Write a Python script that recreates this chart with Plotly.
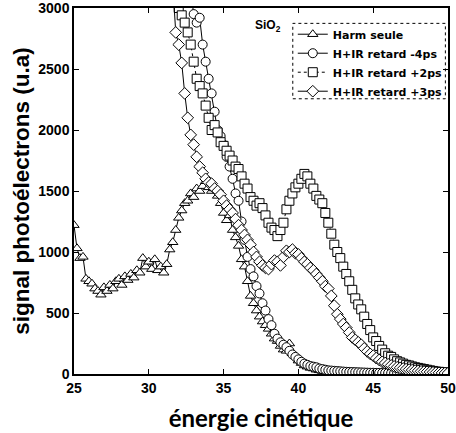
import plotly.graph_objects as go

# ---------------- data ----------------
step = 0.2

harm_start = 25.0
harm_vals = [1220, 1030, 950, 960, 780, 760, 740, 700, 680, 650,
             710, 680, 730, 700, 760, 780, 730, 800, 770, 820,
             790, 850, 830, 950, 880, 920, 860, 940, 850, 880,
             830, 900, 1020, 1080, 1180, 1280, 1340, 1400, 1420, 1480,
             1450, 1520, 1500, 1540, 1580, 1530, 1500, 1520, 1460, 1400,
             1320, 1260, 1300, 1180, 1120, 1050, 940, 880, 760, 640,
             580, 520, 470, 430, 400, 370, 330, 290, 270, 230,
             200, 190, 250, 170, 150, 110, 90, 70, 60, 50,
             45, 35, 30, 25, 20, 18, 16, 15, 14, 12,
             12, 11, 10, 10, 9, 9, 8, 8, 8, 7,
             7, 7, 6, 6, 6, 6, 5, 5, 5, 5,
             5, 5, 5, 5, 5, 5, 5, 5, 5, 5,
             5, 5, 5, 5, 5, 5]

m4_start = 32.8
m4_vals = [3150, 2950, 2880, 2920, 2700, 2560, 2420, 2300, 2150, 2000,
           1950, 1880, 1780, 1700, 1600, 1480, 1420, 1250, 1100, 960,
           860, 800, 720, 660, 580, 520, 450, 400, 330, 290,
           260, 240, 220, 190, 160, 140, 120, 100, 85, 75,
           65, 60, 55, 45, 40, 35, 30, 28, 26, 24,
           22, 20, 18, 17, 16, 15, 14, 13, 12, 11,
           10, 10, 9, 9, 8, 8, 8, 7, 7, 7,
           6, 6, 6, 6, 5, 5, 5, 5, 5, 5,
           5, 5, 5, 5, 5, 5]

p2_start = 31.8
p2_vals = [3200, 3000, 2940, 2880, 2800, 2700, 2560, 2420, 2360, 2300,
           2200, 2100, 2000, 2040, 1980, 1900, 1870, 1830, 1790, 1750,
           1700, 1680, 1620, 1560, 1520, 1450, 1420, 1380, 1400, 1360,
           1300, 1240, 1200, 1180, 1130, 1180, 1240, 1350, 1420, 1480,
           1530, 1560, 1600, 1640, 1620, 1560, 1520, 1460, 1430, 1400,
           1320, 1240, 1150, 1060, 1000, 950, 880, 820, 760, 690,
           620, 570, 530, 470, 410, 360, 300, 270, 230, 200,
           170, 150, 140, 120, 105, 95, 85, 75, 70, 62,
           55, 50, 45, 40, 35, 30, 25, 20, 18, 15,
           12, 10]

p3_start = 31.6
p3_vals = [3200, 2800, 2700, 2550, 2300, 2100, 1960, 1880, 1780, 1700,
           1650, 1600, 1570, 1560, 1520, 1500, 1470, 1420, 1380, 1350,
           1320, 1270, 1220, 1180, 1140, 1100, 1060, 1000, 960, 920,
           890, 870, 860, 900, 930, 920, 890, 960, 1010, 1000,
           1020, 990, 980, 950, 920, 900, 870, 850, 820, 790,
           760, 720, 700, 640, 560, 490, 450, 410, 380, 340,
           300, 280, 260, 240, 210, 185, 165, 150, 130, 115,
           100, 90, 80, 70, 62, 55, 50, 45, 40, 36,
           32, 28, 25, 22, 20, 18, 16, 14, 12, 10,
           9, 8, 7]

series = [
    ("Harm seule", harm_start, harm_vals, "triangle-up", "solid"),
    ("H+IR retard -4ps", m4_start, m4_vals, "circle", "solid"),
    ("H+IR retard +2ps", p2_start, p2_vals, "square", "dot"),
    ("H+IR retard +3ps", p3_start, p3_vals, "diamond", "solid"),
]

x_ticks = [25, 30, 35, 40, 45, 50]
y_ticks = [0, 500, 1000, 1500, 2000, 2500, 3000]

fig = go.Figure()
for name, start, vals, sym, dash in series:
    xs = [round(start + step * i, 2) for i in range(len(vals))]
    fig.add_trace(go.Scatter(
        x=xs, y=vals, name=name, mode="lines+markers",
        line=dict(color="black", width=1, dash=dash),
        marker=dict(symbol=sym, size=9, color="white",
                    line=dict(color="black", width=1)),
    ))

axis_common = dict(
    showline=True, linecolor="black", linewidth=1.5, mirror="ticks",
    ticks="inside", ticklen=5, tickcolor="black", tickwidth=1,
    showgrid=False, zeroline=False, automargin=False,
    ticklabeloverflow="allow",
    tickfont=dict(family="Liberation Sans", size=14, color="black", weight="bold"),
)

fig.update_xaxes(range=[25, 50], tickvals=x_ticks, **axis_common,
                 title=dict(text="énergie cinétique", standoff=16,
                            font=dict(family="Lato", size=24, color="black", weight="bold")))
fig.update_yaxes(range=[0, 3000], tickvals=y_ticks, **axis_common,
                 title=dict(text="signal photoélectrons (u.a)", standoff=2,
                            font=dict(family="Liberation Sans", size=22.5, color="black", weight="bold")))

fig.add_annotation(x=0.479, y=0.978, xref="paper", yref="paper",
                   text="SiO<sub>2</sub>", showarrow=False,
                   xanchor="left", yanchor="top",
                   font=dict(family="Liberation Sans", size=12, color="black", weight="bold"))

# dashed legend frame
fig.add_shape(type="rect", xref="paper", yref="paper",
              x0=0.585, x1=0.993, y0=0.752, y1=0.958,
              line=dict(color="black", width=1, dash="dot"), fillcolor="rgba(0,0,0,0)")

fig.update_layout(
    width=456, height=433,
    margin=dict(l=74, r=8, t=8, b=59, autoexpand=False),
    paper_bgcolor="white", plot_bgcolor="white",
    showlegend=True,
    legend=dict(x=0.585, y=0.968, xanchor="left", yanchor="top",
                bgcolor="rgba(255,255,255,0)", borderwidth=0,
                font=dict(family="DejaVu Sans", size=11, color="black", weight="bold"),
                tracegroupgap=0, itemwidth=30),
)

fig.write_html("out.html",
               config={"displayModeBar": False},
               post_script="document.body.style.margin='0';document.body.style.padding='0';")
